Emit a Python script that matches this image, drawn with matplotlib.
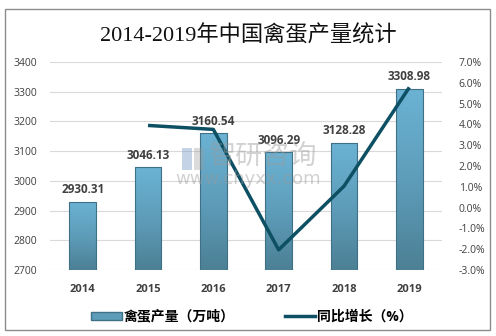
import numpy as np
import matplotlib.pyplot as plt
from matplotlib.patches import Rectangle, FancyBboxPatch
from matplotlib.lines import Line2D
from matplotlib.colors import LinearSegmentedColormap

plt.rcParams['font.family'] = ['Open Sans', 'Noto Sans CJK SC', 'DejaVu Sans']

# 数据
years = ['2014', '2015', '2016', '2017', '2018', '2019']
output = [2930.31, 3046.13, 3160.54, 3096.29, 3128.28, 3308.98]
growth_years = ['2015', '2016', '2017', '2018', '2019']
growth = [3.95, 3.76, -2.03, 1.03, 5.78]

fig = plt.figure(figsize=(4.96, 3.36), dpi=100)
ax = fig.add_axes([0.1008, 0.1964, 0.7903, 0.6191])
ax2 = ax.twinx()

ymin, ymax = 2700, 3400
x = np.arange(len(years))
bw = 0.41
bars = ax.bar(x, output, width=bw, color='none', edgecolor='#3f7086',
              linewidth=0.8, zorder=3)

# 渐变填充柱子
cmap = LinearSegmentedColormap.from_list('bar', ['#4c8095', '#5e9dba', '#6bb2d3'])
grad = np.linspace(0, 1, 100).reshape(-1, 1)
for b, v in zip(bars, output):
    x0, w = b.get_x(), b.get_width()
    im = ax.imshow(grad, cmap=cmap, origin='lower', aspect='auto',
                   extent=[x0, x0 + w, ymin, v], zorder=2)
    im.set_clip_path(b)

ax.set_xlim(-0.5, len(years) - 0.5)
ax.set_ylim(ymin, ymax)
ax.set_yticks(np.arange(ymin, ymax + 1, 100))
ax.grid(axis='y', color='#d9d9d9', linewidth=0.8, zorder=0)
ax.set_axisbelow(True)
ax.set_xticks(x)
ax.set_xticklabels(years, fontsize=8, fontweight='bold', color='#404040')
ax.tick_params(axis='y', labelsize=7.5, colors='#404040', length=0, pad=9)
ax.tick_params(axis='x', length=0, pad=10)
for s in ax.spines.values():
    s.set_visible(False)
for s in ax2.spines.values():
    s.set_visible(False)

for xi, v in zip(x, output):
    ax.annotate(f'{v:.2f}', (xi, v), xytext=(0, 4), textcoords='offset points',
                ha='center', va='bottom', fontsize=8.5, fontweight='bold',
                color='#404040', zorder=5)

gx = [years.index(y) for y in growth_years]
ax2.plot(gx, growth, color='#0d5063', linewidth=2.5, zorder=4,
         solid_joinstyle='round', solid_capstyle='butt')
ax2.set_ylim(-3, 7)
ax2.set_yticks(np.arange(-3, 8, 1))
ax2.set_yticklabels([f'{t:.1f}%' for t in np.arange(-3, 8, 1)])
ax2.tick_params(axis='y', labelsize=7.5, colors='#404040', length=0, pad=12)

# 水印
wm = '#9a9a9a'
fig.patches.append(FancyBboxPatch((182 / 496, 1 - 170 / 336), 10 / 496, 22 / 336,
                                  boxstyle='square,pad=0', transform=fig.transFigure,
                                  facecolor='#7f9fc8', edgecolor='none', alpha=0.45))
fig.patches.append(FancyBboxPatch((194 / 496, 1 - 170 / 336), 10 / 496, 22 / 336,
                                  boxstyle='square,pad=0', transform=fig.transFigure,
                                  facecolor=wm, edgecolor='none', alpha=0.35))
fig.text(0.530, 0.535, '智研咨询', fontsize=19.5, color=wm, alpha=0.45,
         ha='center', va='center', family=['Noto Sans CJK SC'])
fig.text(0.500, 0.468, 'www.chyxx.com', fontsize=13, color=wm,
         alpha=0.45, ha='center', va='center', family=['DejaVu Sans'])

fig.text(0.5, 0.893, '2014-2019年中国禽蛋产量统计', fontsize=16, ha='center',
         va='center', color='#111111',
         family=['Liberation Serif', 'Noto Sans CJK SC'])

# 图例
handles = [Rectangle((0, 0), 1, 1, facecolor='#5e9dba', edgecolor='#3f7086'),
           Line2D([0], [0], color='#0d5063', linewidth=2.5)]
fig.legend(handles, ['禽蛋产量（万吨）', '同比增长（%）'], loc='center',
           bbox_to_anchor=(0.508, 0.058), ncol=2, frameon=False,
           prop={'size': 10, 'weight': 'bold'}, handlelength=2.2,
           handleheight=0.5, columnspacing=3.6, handletextpad=0.15)

fig.patches.append(Rectangle((5 / 496, 6 / 336), 485 / 496, 321 / 336,
                             transform=fig.transFigure, fill=False,
                             edgecolor='#8c8c8c', linewidth=1))

fig.savefig('out.png', dpi=100)
